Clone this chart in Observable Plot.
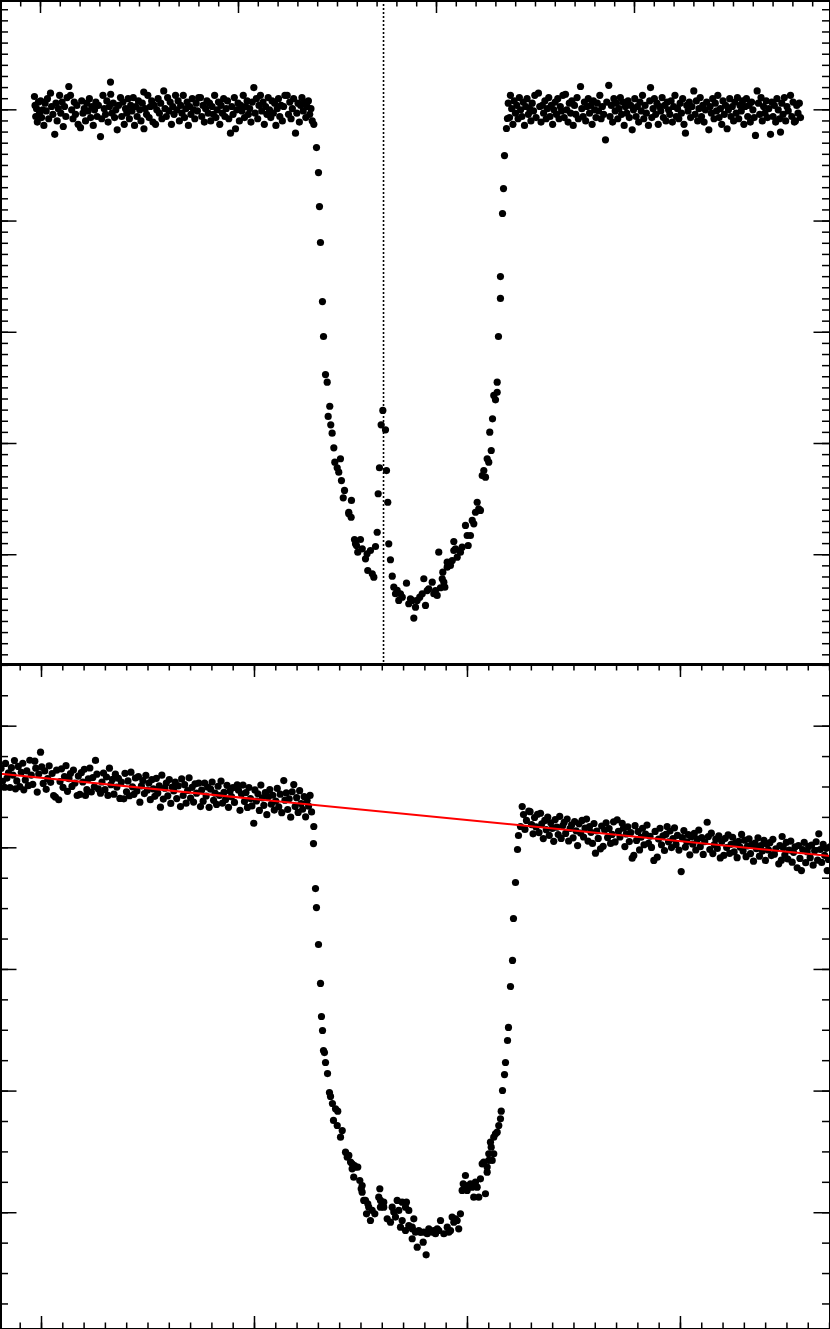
<!DOCTYPE html>
<html><head><meta charset="utf-8">
<script src="https://cdn.jsdelivr.net/npm/d3@7"></script>
<script src="https://cdn.jsdelivr.net/npm/@observablehq/plot@0.6"></script>
<style>
body{margin:0;background:#fff}
#chart{width:830px}
#chart svg{display:block;overflow:hidden;max-width:none}
</style>
</head><body><div id="chart"></div>
<script>
// Top panel: phase-folded light curve. time from a reference epoch (min), relative flux (ppt)
const topLightCurve = [
[-6.1,1.2],[-5.5,0.4],[-4.8,-0.6],[-4.0,0.1],[-3.2,-1.1],[-2.1,0.7],[-1.0,-0.3],[0.2,0.8],[1.1,-0.7],[2.3,0.0],
[3.4,-1.4],[4.6,0.6],[5.8,-0.1],[7.0,1.0],[8.3,-0.8],[10.1,1.5],[11.2,0.3],[12.5,-0.4],[14.4,-2.2],[15.6,0.6],
[16.8,-1.0],[18.0,0.1],[19.3,1.3],[20.5,-0.3],[21.8,0.7],[23.0,-1.5],[24.3,0.3],[25.6,-0.6],[26.9,1.1],[28.6,2.1],
[30.3,1.3],[31.5,0.0],[32.8,-0.8],[34.1,0.7],[35.4,-0.4],[36.7,0.4],[38.0,-1.3],[40.4,-1.6],[41.6,0.8],[42.9,-0.3],
[44.2,0.1],[45.5,-1.0],[46.8,0.6],[48.1,-0.1],[49.4,1.0],[50.7,-0.7],[52.0,0.3],[53.3,-1.4],[54.6,0.0],[55.9,0.7],
[57.2,-0.6],[58.5,0.4],[60.6,-2.4],[61.8,-0.8],[63.1,1.3],[64.4,0.1],[65.7,-0.4],[67.0,0.8],[68.3,-1.1],[69.6,0.3],
[70.7,2.5],[70.9,1.4],[72.2,-0.3],[73.5,0.6],[74.8,-0.7],[76.1,0.0],[77.5,-1.8],[78.8,0.4],[80.8,1.1],[82.0,-0.6],
[83.3,0.7],[84.6,-1.3],[85.9,0.1],[87.2,-0.3],[88.5,1.0],[89.8,-0.8],[91.1,0.4],[92.4,-0.1],[93.7,1.1],[95.0,-1.4],
[96.3,0.3],[97.6,-0.6],[98.9,0.8],[100.2,0.0],[101.5,-1.0],[102.8,0.6],[104.3,1.6],[104.5,-1.7],[105.8,0.1],[107.1,-0.4],
[108.4,1.3],[109.7,-0.7],[111.0,0.3],[112.3,0.8],[113.6,-1.1],[114.9,0.4],[116.2,-1.3],[117.5,0.0],[118.8,1.0],[120.1,-0.3],
[121.4,0.6],[122.7,-0.8],[124.5,1.7],[125.8,0.1],[127.1,-0.6],[128.4,1.1],[129.7,-0.1],[131.0,0.7],[132.3,-1.3],[133.6,0.3],
[134.9,-0.4],[136.4,1.3],[137.7,0.0],[139.0,0.8],[140.3,-1.0],[141.6,0.4],[142.9,-0.3],[144.2,1.3],[145.5,-0.7],[146.8,0.1],
[148.1,0.7],[149.4,-1.4],[150.7,0.3],[152.0,-0.4],[153.3,1.0],[154.6,0.0],[155.9,-0.8],[157.2,0.6],[158.5,-0.1],[159.8,1.1],
[161.6,1.1],[162.9,-0.6],[164.2,0.4],[165.5,-1.1],[166.8,0.1],[168.1,0.8],[169.4,-0.3],[170.7,0.6],[172.0,-1.0],[173.3,0.3],
[174.6,-0.4],[175.9,1.3],[177.2,-0.7],[178.5,0.0],[179.8,0.7],[181.1,-1.3],[182.4,0.4],[183.7,-0.3],[185.0,1.0],[186.3,-0.6],
[187.6,0.1],[188.9,0.8],[190.2,-0.8],[191.9,-2.1],[193.2,0.3],[194.5,-0.4],[195.8,1.1],[197.0,-1.7],[198.3,0.0],[199.6,0.6],
[200.9,-1.0],[202.2,0.4],[203.5,-0.1],[204.8,1.3],[206.1,-0.7],[207.4,0.3],[208.7,0.8],[210.0,-0.4],[211.3,0.1],[212.6,-1.1],
[213.9,0.7],[215.5,2.0],[216.8,-0.3],[218.1,1.0],[219.4,-0.8],[220.7,0.4],[222.2,1.3],[223.5,-0.1],[224.8,0.7],[226.1,-1.3],
[227.4,0.3],[228.7,-0.4],[230.0,1.1],[231.3,0.0],[232.6,-0.7],[233.9,0.8],[235.2,-0.3],[236.5,0.6],[237.8,-1.4],[239.1,0.1],
[240.4,1.0],[241.7,-0.6],[243.0,0.4],[244.3,-1.0],[245.6,0.3],[246.9,1.3],[249.2,1.3],[250.5,-0.4],[251.8,0.7],[253.1,-0.8],
[254.4,0.1],[255.7,1.0],[257.6,-2.1],[258.9,-0.3],[260.2,0.6],[261.5,-1.1],[262.8,0.4],[264.1,1.1],[265.4,-0.1],[266.7,0.7],
[268.0,-0.7],[269.3,0.3],[270.6,0.8],[271.9,-0.4],[273.2,0.1],[274.5,-1.0],[276.1,-1.3],
[278.8,-3.39],[280.8,-5.64],[281.8,-8.70],[282.8,-11.93],[284.8,-17.24],[285.9,-20.38],[287.9,-23.80],[289.6,-24.49],
[292.2,-26.65],[290.6,-27.57],[293.2,-28.32],[294.6,-29.07],[296.3,-30.39],[297.3,-31.68],[303.0,-31.37],[299.7,-32.18],
[301.3,-32.58],[304.0,-33.33],[307.1,-34.22],[305.8,-34.88],[314.1,-35.12],[311.4,-36.18],[313.8,-36.63],[317.2,-38.63],
[323.2,-38.63],[319.2,-39.17],[320.5,-39.77],[333.3,-39.62],[329.9,-39.92],[338.4,-39.26],[328.3,-40.37],[330.6,-41.42],
[336.7,-42.02],[340.1,-37.98],[341.1,-34.52],[342.4,-32.18],[349.5,-32.43],[345.8,-27.03],[344.1,-28.32],[348.5,-28.77],
[350.8,-35.28],[351.8,-39.02],[353.5,-40.45],[355.3,-41.93],[356.9,-42.92],[360.3,-43.21],[358.6,-43.51],[361.9,-44.11],
[365.4,-43.82],[369.7,-42.56],[372.0,-44.41],[375.5,-44.11],[378.8,-44.72],[377.1,-45.70],[383.1,-43.82],[387.2,-42.16],
[388.9,-44.56],[392.2,-43.06],[395.7,-42.47],[397.3,-43.51],[400.7,-43.66],[404.0,-42.97],[407.4,-42.47],[408.4,-42.92],
[406.4,-41.57],[402.3,-39.77],[410.8,-40.67],[414.1,-40.97],[417.5,-39.62],[420.9,-40.22],[424.2,-39.77],[425.9,-39.32],
[417.5,-38.81],[432.0,-39.17],[434.3,-38.27],[429.3,-37.37],[436.1,-36.92],[439.4,-36.18],[442.7,-35.87],[441.1,-35.28],
[446.2,-32.88],[449.5,-33.03],[447.8,-32.43],[452.8,-31.68],[451.2,-31.37],[455.3,-30.63],[456.6,-27.78],[453.8,-28.98],
[457.9,-25.68],[459.6,-26.07],[461.3,-25.39],[461.3,-24.49],[462.6,-20.38],[464.6,-16.96],[464.6,-14.99],[466.7,-9.32],
[467.7,-7.08],[468.7,-4.11],[470.7,-1.68],[471.7,-0.78],
[363.6,-43.51],[373.7,-43.96],[380.5,-44.11],[385.6,-43.51],[390.6,-43.22],[399.0,-43.22],[405.8,-42.16],[410.8,-41.12],
[415.9,-40.52],[419.2,-39.47],[431.0,-38.27],[437.7,-37.22],[444.4,-36.02],[311.4,-36.32],[318.2,-39.02],[325.0,-39.47],[335.1,-41.71],
[472.5,0.6],[473.8,-0.7],[474.7,1.3],[475.9,0.1],[477.2,-1.3],[478.5,0.8],[479.8,-0.3],[481.1,0.4],[482.4,-0.8],[483.7,1.1],
[485.0,0.0],[486.3,-0.6],[487.6,0.7],[488.9,-1.4],[490.2,0.3],[491.5,1.0],[492.8,-0.4],[494.1,0.1],[495.4,-1.0],[496.7,0.6],
[498.0,-0.1],[499.3,1.3],[500.6,-0.7],[503.0,1.5],[504.3,0.3],[505.6,-1.1],[506.9,0.4],[508.2,-0.3],[509.5,0.8],[510.8,-0.8],
[512.1,0.1],[513.4,1.1],[514.7,-0.6],[516.0,0.4],[517.3,-1.3],[518.6,0.0],[519.9,0.7],[521.2,-0.4],[522.5,1.0],[523.8,-0.8],
[525.1,0.3],[526.4,-0.1],[527.7,1.3],[529.0,-0.7],[530.3,1.4],[531.6,0.0],[532.9,-1.1],[534.2,0.6],[535.5,-0.3],[536.8,0.8],
[538.1,-1.4],[539.4,0.4],[540.7,-0.4],[542.0,1.1],[543.3,-0.8],[545.5,2.1],[546.8,0.1],[548.1,-0.6],[549.4,0.7],[550.7,-1.0],
[552.0,0.3],[553.3,1.0],[554.6,-0.3],[555.9,0.4],[557.2,-1.3],[558.5,0.8],[559.8,0.0],[561.1,-0.7],[562.4,0.6],[563.7,-0.1],
[565.0,1.3],[566.3,-0.8],[567.6,0.3],[568.9,-0.4],[570.7,-2.7],[572.0,0.7],[574.0,2.2],[575.3,-0.6],[576.6,0.4],[577.9,-1.1],
[579.2,1.0],[580.5,-0.1],[581.8,0.6],[583.1,-0.8],[584.4,0.1],[585.7,1.1],[587.0,-0.4],[588.3,0.7],[589.6,-1.4],[590.9,0.3],
[592.2,-0.3],[593.5,0.8],[594.8,-0.7],[596.1,0.4],[597.7,-1.8],[599.0,0.0],[600.3,1.0],[601.6,-0.6],[602.9,0.3],[604.2,-1.1],
[605.5,0.7],[606.8,-0.1],[608.1,1.3],[609.4,-0.8],[610.7,0.4],[612.0,-0.3],[614.1,-1.4],[615.4,0.8],[616.2,2.0],[617.5,-0.7],
[618.8,0.1],[620.1,1.0],[621.4,-0.4],[622.7,0.6],[624.0,-1.3],[625.3,0.3],[626.6,-0.1],[627.9,1.1],[629.2,-0.7],[630.5,0.4],
[631.8,-1.0],[633.1,0.7],[634.4,0.0],[635.7,-0.4],[637.0,0.8],[638.3,-1.1],[639.6,0.3],[640.9,1.3],[642.2,-0.6],[643.5,0.1],
[644.8,-0.8],[646.1,0.6],[647.4,-0.3],[648.7,1.0],[650.0,-1.3],[651.5,-2.1],[652.8,0.4],[654.1,-0.1],[655.4,0.7],[656.7,-0.7],
[658.0,0.3],[659.9,1.7],[661.2,-0.4],[662.5,0.8],[663.8,-1.0],[665.1,0.1],[666.4,1.1],[667.7,-0.6],[669.0,0.4],[670.3,-1.1],
[671.6,0.0],[672.9,0.7],[675.1,-1.8],[676.4,0.3],[677.7,-0.3],[679.0,1.0],[680.3,-0.8],[681.6,0.6],[682.9,-0.1],[684.2,1.3],
[685.5,-0.7],[686.8,0.1],[688.1,-1.3],[689.4,0.8],[690.7,-0.4],[692.0,0.4],[693.6,-1.7],[694.9,0.0],[696.2,1.0],[697.5,-0.6],
[698.8,0.3],[700.1,-1.0],[701.4,0.7],[702.7,-0.3],[704.0,1.1],[705.3,-0.8],[706.6,0.4],[707.9,-0.1],[709.2,0.8],[710.5,-1.3],
[711.8,0.3],[713.1,1.0],[714.4,-0.6],[715.7,0.4],[717.0,-1.1],[718.3,0.7],[719.6,0.0],[720.9,-0.7],[722.2,-2.3],[723.9,1.7],
[725.2,0.6],[726.5,-0.4],[727.8,1.1],[729.1,-1.0],[730.4,0.3],[731.7,-0.3],[733.0,0.8],[734.3,-0.7],[735.6,0.1],[737.4,-2.2],
[738.7,0.7],[740.0,-0.6],[741.3,0.4],[742.6,-1.1],[743.9,1.0],[745.2,0.0],[746.5,-0.8],[747.5,-2.0],[748.8,0.6],[750.1,-0.4],
[751.4,1.1],[752.7,-1.0],[754.0,0.3],[755.3,-0.1],[757.6,1.3],[758.9,-0.6],[760.2,0.7],[761.5,-1.1],[762.6,-1.0],[763.9,0.4],
[765.2,-0.3],[766.5,0.6],[767.7,-0.7]
];

// Bottom panel: raw light curve, time since start (min), relative flux (ppt)
const bottomLightCurve = [
[-38.0,6.53],[-36.6,5.47],[-34.7,4.98],[-33.8,6.94],[-32.4,5.73],[-31.0,6.17],[-29.6,4.96],[-28.2,6.59],[-26.8,5.98],[-25.4,7.17],
[-24.4,4.85],[-23.2,5.50],[-21.8,6.69],[-20.4,5.03],[-19.0,6.21],[-17.6,6.95],[-16.6,4.77],[-15.2,5.58],[-13.8,6.32],[-12.4,5.11],
[-11.0,7.20],[-9.6,5.98],[-8.2,5.22],[-6.3,7.12],[-5.4,6.55],[-4.0,4.58],[-2.6,6.07],[-0.9,7.86],[0.2,6.65],[1.6,5.29],
[3.0,6.32],[4.4,4.81],[5.8,5.70],[7.2,6.74],[8.6,5.38],[10.0,6.11],[11.4,4.30],[13.1,4.16],[14.2,6.38],[16.2,3.95],
[17.4,5.45],[18.8,6.49],[20.2,4.97],[21.6,5.86],[23.0,6.75],[24.4,4.64],[25.8,5.68],[27.2,6.11],[28.6,5.05],[30.0,6.39],
[31.4,5.33],[33.5,4.30],[34.6,5.90],[36.0,4.39],[37.4,6.18],[38.8,5.41],[40.2,6.45],[41.3,4.30],[42.6,4.78],[44.0,5.67],
[45.4,6.56],[46.8,4.59],[48.2,5.78],[49.6,5.02],[50.7,7.18],[52.0,6.05],[53.4,4.84],[55.4,4.49],[56.8,5.41],[58.2,6.15],
[59.6,4.78],[61.0,5.82],[62.4,4.31],[63.8,6.55],[65.2,5.19],[66.6,5.62],[68.0,4.41],[69.4,6.05],[70.8,4.99],[72.2,5.72],
[73.6,4.06],[75.0,5.40],[77.3,4.03],[78.4,6.12],[79.8,4.61],[81.2,5.50],[82.6,4.28],[84.0,6.22],[85.4,5.01],[86.8,4.40],
[88.2,5.74],[89.6,4.67],[91.0,5.86],[92.4,3.75],[93.8,5.09],[95.2,5.52],[96.6,4.46],[98.0,5.95],[99.4,4.74],[100.8,5.33],
[102.2,3.96],[103.6,5.60],[105.0,4.84],[106.4,4.23],[107.8,5.71],[109.2,4.50],[110.6,5.09],[111.7,3.34],[113.0,5.97],[114.4,4.01],
[115.8,4.90],[117.2,5.33],[118.6,4.27],[120.0,5.61],[121.4,3.65],[122.8,4.99],[124.2,4.67],[125.6,5.41],[127.0,4.05],[128.4,5.09],
[130.5,3.39],[131.6,5.66],[133.0,4.30],[134.4,5.19],[135.8,3.67],[137.2,4.71],[138.6,5.75],[140.0,4.09],[141.4,4.97],[142.8,3.76],
[144.2,5.25],[145.6,4.49],[147.7,5.31],[149.3,3.39],[150.4,4.75],[151.8,3.83],[153.2,5.32],[154.6,4.26],[156.0,5.00],[157.4,3.33],
[158.8,4.82],[160.2,5.41],[161.6,3.90],[163.0,4.49],[164.4,3.57],[165.8,5.06],[167.2,4.30],[168.6,5.49],[170.0,3.68],[171.4,4.56],
[172.8,3.95],[174.2,5.14],[175.6,3.33],[177.0,4.66],[178.4,4.20],[179.8,4.94],[181.2,3.73],[183.8,5.18],[185.0,4.74],[186.4,3.08],
[187.8,4.42],[189.2,5.16],[190.6,3.80],[192.0,4.54],[193.4,3.32],[194.8,4.96],[196.2,4.05],[197.6,3.44],[199.3,2.02],[200.4,4.76],
[201.8,3.85],[203.2,4.44],[204.6,3.07],[206.0,5.16],[207.4,4.10],[208.8,3.49],[210.2,4.53],[211.6,2.72],[213.0,4.20],[214.4,4.79],
[215.8,3.58],[217.2,4.32],[218.6,3.10],[220.0,3.84],[221.4,4.88],[222.8,3.37],[224.2,4.41],[225.6,2.89],[227.5,5.53],[228.6,3.92],
[229.9,4.51],[231.2,3.15],[232.6,4.03],[234.0,2.52],[235.4,4.61],[236.9,5.20],[238.2,3.39],[239.6,4.12],[241.0,2.91],[242.4,4.70],
[243.8,3.64],[245.2,3.17],[246.6,4.21],[248.0,2.55],[249.4,3.89],[250.8,3.43],[252.2,4.31],[253.6,2.95],
[255.7,1.75],[255.4,0.35],[257.3,-3.35],[258.2,-4.91],[260.1,-7.95],[262.0,-11.15],[262.9,-13.87],[263.9,-15.02],[264.8,-16.67],
[265.7,-16.83],[266.7,-17.65],[268.6,-18.56],[270.4,-20.12],[271.4,-20.44],[273.2,-21.02],[274.2,-22.41],[276.1,-21.46],[278.2,-21.65],
[277.7,-22.83],[282.4,-23.24],[280.8,-23.79],[285.5,-25.02],[287.1,-25.43],[290.2,-25.84],[293.9,-26.12],[297.0,-26.25],[291.7,-26.39],
[293.2,-27.08],[298.9,-27.35],[300.2,-28.03],[301.1,-28.31],[304.2,-28.99],[307.3,-29.54],[305.2,-30.09],[308.9,-30.64],[317.7,-28.03],
[316.7,-28.72],[321.4,-29.13],[318.3,-29.54],[313.0,-30.09],[324.6,-30.50],[327.7,-30.78],[332.4,-30.36],[334.0,-28.99],[338.7,-29.13],
[342.7,-29.13],[344.9,-29.81],[341.8,-29.54],[337.1,-31.19],[341.8,-31.46],[348.1,-31.32],[349.6,-30.50],[348.1,-32.14],[352.8,-32.83],
[358.4,-32.42],[361.2,-33.46],[355.9,-31.61],[362.2,-31.73],[368.4,-31.46],[371.6,-31.32],[374.7,-30.64],[377.8,-31.73],[382.5,-31.60],
[385.6,-30.36],[388.7,-30.50],[391.8,-31.32],[393.4,-30.09],[396.0,-27.62],[398.1,-26.94],[399.7,-28.17],[404.4,-27.90],[405.9,-28.72],
[409.1,-27.90],[412.2,-27.21],[410.6,-28.72],[416.9,-28.44],[413.8,-25.98],[418.5,-26.25],[420.0,-25.15],[423.2,-25.70],[418.5,-26.67],
[421.6,-24.20],[424.7,-23.79],[426.3,-23.51],[427.9,-23.38],[429.4,-22.83],[431.0,-22.28],[431.7,-21.65],[432.9,-19.95],[434.8,-18.64],
[435.7,-17.65],[437.6,-15.84],[438.5,-14.77],[440.4,-11.40],[442.3,-9.26],[443.2,-5.81],[445.1,-2.85],[447.0,-0.14],[447.9,1.01],[449.8,1.75],
[288.6,-25.29],[291.7,-25.98],[294.8,-26.25],[301.1,-27.76],[302.6,-28.99],[306.4,-29.26],[310.5,-29.81],[318.3,-28.99],[321.4,-29.54],
[329.3,-29.54],[330.8,-29.95],[335.5,-29.81],[338.7,-30.64],[344.9,-31.05],[348.1,-31.19],[351.2,-31.60],[354.3,-31.46],[359.0,-31.60],
[363.7,-31.32],[366.9,-31.60],[370.0,-31.73],[373.1,-31.46],[381.0,-31.19],[384.1,-31.46],[387.2,-30.78],[390.3,-30.64],[395.0,-28.17],
[398.1,-27.76],[402.8,-27.62],[407.5,-27.49],[415.3,-25.84],[420.0,-25.70],[424.7,-25.15],[422.3,-24.61],
[451.4,3.39],[452.6,2.73],[454.0,1.51],[455.4,2.25],[457.6,3.01],[458.8,2.97],[460.2,1.91],[461.6,1.15],[463.0,2.49],[464.4,1.72],
[465.8,2.76],[467.2,1.25],[468.6,2.84],[469.8,1.98],[471.2,0.76],[472.6,2.25],[474.0,1.49],[475.4,2.53],[476.8,1.02],[478.2,2.05],
[479.6,1.59],[481.0,0.53],[482.4,2.32],[483.8,1.70],[485.2,1.09],[486.6,2.58],[488.0,0.77],[489.4,1.81],[490.8,2.09],[492.2,1.18],
[493.6,2.37],[495.0,0.56],[496.4,1.59],[497.8,1.88],[499.2,0.82],[500.6,2.16],[502.0,1.40],[503.4,0.18],[504.8,1.97],[506.2,1.21],
[507.6,2.25],[509.0,0.89],[510.4,1.62],[511.8,2.36],[513.2,0.55],[514.6,1.74],[516.0,1.27],[517.4,0.36],[518.8,2.00],[520.2,-0.44],
[521.4,1.38],[522.8,0.77],[524.9,-0.08],[526.0,1.79],[527.4,0.13],[528.8,1.46],[530.2,2.05],[531.6,0.84],[533.0,1.58],[534.4,0.36],
[535.8,1.10],[537.2,2.14],[538.6,0.48],[540.6,2.30],[541.8,1.35],[543.2,0.89],[545.3,2.02],[546.4,1.61],[547.8,0.10],[549.2,1.14],
[550.6,1.73],[552.0,0.51],[553.4,1.25],[554.7,-0.85],[556.2,-0.63],[557.4,1.82],[558.8,0.61],[560.2,1.34],[561.6,-0.17],[563.0,0.87],
[564.4,1.61],[565.8,0.25],[567.2,1.13],[568.6,1.87],[570.0,0.36],[571.4,0.95],[572.8,0.03],[575.0,-1.04],[576.2,1.35],[578.2,-0.77],
[579.4,0.72],[580.8,1.61],[582.2,0.25],[583.6,0.99],[585.0,-0.22],[586.4,1.11],[587.5,1.75],[588.8,0.49],[590.2,1.38],[591.6,0.02],
[593.0,0.76],[594.4,1.64],[595.8,0.28],[597.2,1.02],[598.6,-0.19],[600.7,-1.95],[601.8,0.83],[603.2,1.42],[604.6,0.06],[606.0,0.50],
[607.4,1.08],[608.8,-0.58],[610.2,0.91],[611.6,0.30],[613.0,1.18],[614.4,-0.18],[615.8,0.71],[617.2,1.45],[618.6,0.09],[620.0,0.83],
[621.4,-0.54],[622.8,0.50],[625.1,2.10],[626.2,0.92],[627.6,-0.14],[629.0,1.20],[630.4,-0.47],[631.8,0.27],[633.2,0.71],[634.6,-0.05],
[636.0,0.99],[637.4,-0.83],[638.8,0.51],[640.7,-0.63],[642.0,0.78],[643.4,0.02],[644.8,1.06],[646.2,-0.45],[647.6,0.29],[649.0,0.87],
[650.4,-0.34],[651.8,0.40],[653.2,-0.81],[654.6,0.53],[656.0,0.06],[657.4,1.10],[658.8,-0.26],[660.2,0.63],[661.6,-0.73],[663.0,0.15],
[664.4,0.74],[665.8,-0.47],[667.2,0.27],[668.6,-1.10],[670.0,0.39],[671.4,-0.07],[672.8,0.82],[674.2,-0.69],[675.6,0.19],[677.0,-0.27],
[678.4,0.62],[679.8,-1.04],[681.2,0.29],[682.6,-0.17],[684.0,0.42],[685.4,-0.64],[686.8,0.70],[688.2,-0.52],[689.6,-0.08],[692.3,-1.32],
[693.4,0.19],[694.8,-1.02],[695.5,0.93],[696.6,0.01],[698.0,-0.60],[699.4,0.44],[700.8,-0.92],[702.2,-0.19],[703.6,0.55],[704.9,-1.18],
[706.2,-0.37],[707.6,0.07],[709.6,-1.64],[710.8,0.19],[712.2,-0.87],[713.6,-1.87],[714.8,-0.14],[716.2,0.44],[717.6,-1.22],[719.0,-0.33],
[720.4,0.11],[721.8,-0.81],[723.2,0.23],[724.6,-1.43],[726.0,-0.24],[727.4,0.50],[728.8,-1.02],[729.9,1.15],[731.2,-0.14],[732.6,-1.20],
[734.0,0.29],[735.4,-0.62],[736.8,-0.04],[737.8,-1.87],[739.0,-0.96],[740.4,0.08]
];

// Linear baseline trend (red line) of the raw light curve
const trendTime = [-38.5, 740.9];
const trendFlux = [6.08, -0.67];

// Predicted mid-transit time (dotted line, top panel)
const predictedMidTransit = [346.5];

// Axis extents and tick values
const topXDomain = [-40.4, 798.0];
const topYDomain = [-49.87, 9.83];
const bottomXDomain = [-38.5, 740.9];
const bottomYDomain = [-39.60, 15.07];
const xMinorTicks = d3.range(-20, 781, 20);
const xMajorTicks = [0, 200, 400, 600];
const topYMinorTicks = d3.range(-49, 10, 1);
const topYMajorTicks = [0, -10, -20, -30, -40];
const bottomYMinorTicks = d3.range(-37.5, 15.1, 2.5);
const bottomYMajorTicks = [10, 0, -10, -20, -30];

const W = 830, H1 = 664, H2 = 665;
const TICK = {stroke: "black", strokeWidth: 1.5};
const X_MINOR = 6.5, X_MAJOR = 13, Y_MINOR = 8, Y_MAJOR = 16.5;
const R = 3.6;

function xTicks(values, H, len, side) {
  return Plot.ruleX(values, {x: d => d, ...TICK,
    insetTop: side === "bottom" ? H - len : 0,
    insetBottom: side === "top" ? H - len : 0});
}
function yTicks(values, len, side) {
  return Plot.ruleY(values, {y: d => d, ...TICK,
    insetRight: side === "left" ? W - len : 0,
    insetLeft: side === "right" ? W - len : 0});
}

const topPlot = Plot.plot({
  width: W, height: H1, margin: 0,
  style: {background: "white", overflow: "hidden"},
  x: {domain: topXDomain, axis: null},
  y: {domain: topYDomain, axis: null},
  marks: [
    Plot.ruleX(predictedMidTransit, {x: d => d, stroke: "black", strokeWidth: 1.6, strokeDasharray: "2,2"}),
    Plot.dot(topLightCurve, {x: d => d[0], y: d => d[1], r: R, fill: "black", stroke: "none", clip: true}),
    xTicks(xMinorTicks, H1, X_MINOR, "top"),
    xTicks(xMajorTicks, H1, X_MAJOR, "top"),
    yTicks(topYMinorTicks, Y_MINOR, "left"),
    yTicks(topYMajorTicks, Y_MAJOR, "left"),
    yTicks(topYMinorTicks, Y_MINOR, "right"),
    yTicks(topYMajorTicks, Y_MAJOR, "right"),
    Plot.frame({stroke: "black", strokeWidth: 3})
  ]
});

const trend = trendTime.map((t, i) => ({t, f: trendFlux[i]}));
const bottomPlot = Plot.plot({
  width: W, height: H2, margin: 0,
  style: {background: "white", overflow: "hidden"},
  x: {domain: bottomXDomain, axis: null},
  y: {domain: bottomYDomain, axis: null},
  marks: [
    Plot.dot(bottomLightCurve, {x: d => d[0], y: d => d[1], r: R, fill: "black", stroke: "none", clip: true}),
    Plot.line(trend, {x: "t", y: "f", stroke: "#ff0000", strokeWidth: 2}),
    xTicks(xMinorTicks, H2, X_MINOR, "top"),
    xTicks(xMajorTicks, H2, X_MAJOR, "top"),
    xTicks(xMinorTicks, H2, X_MINOR, "bottom"),
    xTicks(xMajorTicks, H2, X_MAJOR, "bottom"),
    yTicks(bottomYMinorTicks, Y_MINOR, "left"),
    yTicks(bottomYMajorTicks, Y_MAJOR, "left"),
    yTicks(bottomYMinorTicks, Y_MINOR, "right"),
    yTicks(bottomYMajorTicks, Y_MAJOR, "right"),
    Plot.frame({stroke: "black", strokeWidth: 3})
  ]
});

const chart = document.getElementById("chart");
chart.appendChild(topPlot);
chart.appendChild(bottomPlot);
</script>
</body></html>
